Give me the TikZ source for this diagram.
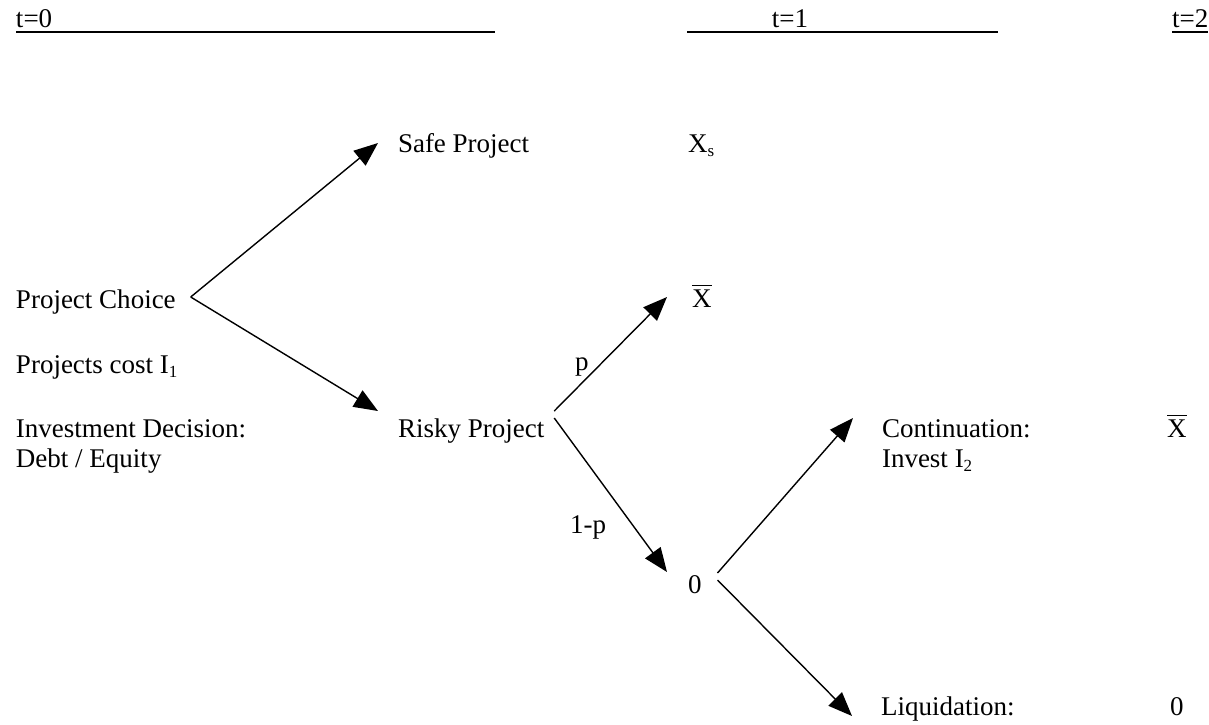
\documentclass[tikz,border=0pt]{standalone}
\usepackage{fontspec}
\setmainfont{Liberation Serif}
\usetikzlibrary{arrows.meta}
\newcommand\myxbar{\leavevmode\vbox{\hrule height 1.4pt \kern 3.2pt \hbox{X}}}
\newcommand\mysub[1]{\raisebox{-4pt}{\fontsize{17}{17}\selectfont #1}}
\begin{document}
\begin{tikzpicture}[x=1pt,y=-1pt,
  lbl/.style={inner sep=0pt,outer sep=0pt,anchor=base west,font=\fontsize{27}{31}\selectfont},
  arr/.style={line width=1.4pt,-{Triangle[length=24pt,width=19pt]}},
  uline/.style={line width=2pt}]
\useasboundingbox (0,0) rectangle (1209,724);
% headers
\node[lbl] (t0) at (16,27) {t=0};
\node[lbl,anchor=base] (t1) at (790,27) {t=1};
\node[lbl] (t2) at (1172,27) {t=2};
\draw[uline] ([shift={(0,5)}]t0.base west) -- ++(479,0);
\draw[uline] ([shift={(-103,5)}]t1.base) -- ++(311,0);
\draw[uline] ([shift={(0,5)}]t2.base west) -- ([shift={(0,5)}]t2.base east);
% nodes
\node[lbl] (safe) at (398,152) {Safe Project};
\node[lbl] (xs) at (688,152) {X\mysub{s}};
\node[lbl] (choice) at (16,308) {Project Choice};
\node[lbl] (xbar1) at (692,307) {\myxbar};
\node[lbl] (cost) at (16,373) {Projects cost I\mysub{1}};
\node[lbl] (p) at (575,370) {p};
\node[lbl] (inv) at (16,437) {Investment Decision:};
\node[lbl] (debt) at (16,467) {Debt / Equity};
\node[lbl] (risky) at (398,437) {Risky Project};
\node[lbl] (cont) at (882,437) {Continuation:};
\node[lbl] (invest) at (882,467) {Invest I\mysub{2}};
\node[lbl] (xbar2) at (1167,437) {\myxbar};
\node[lbl] (omp) at (570,533) {1-p};
\node[lbl] (zero1) at (688,593) {0};
\node[lbl] (liq) at (881,715) {Liquidation:};
\node[lbl] (zero2) at (1170,715) {0};
% arrows
\draw[arr] ([shift={(15,-11)}]choice.base east) -- ([shift={(-20,-9)}]safe.base west);
\draw[arr] ([shift={(15,-11)}]choice.base east) -- ([shift={(-20,-26)}]risky.base west);
\draw[arr] ([shift={(10,-26)}]risky.base east) -- ([shift={(-25,-10)}]xbar1.base west);
\draw[arr] ([shift={(10,-19)}]risky.base east) -- ([shift={(-21,-21)}]zero1.base west);
\draw[arr] ([shift={(16,-20)}]zero1.base east) -- ([shift={(-29,-19)}]cont.base west);
\draw[arr] ([shift={(16,-13)}]zero1.base east) -- ([shift={(-29,1)}]liq.base west);
\end{tikzpicture}
\end{document}
